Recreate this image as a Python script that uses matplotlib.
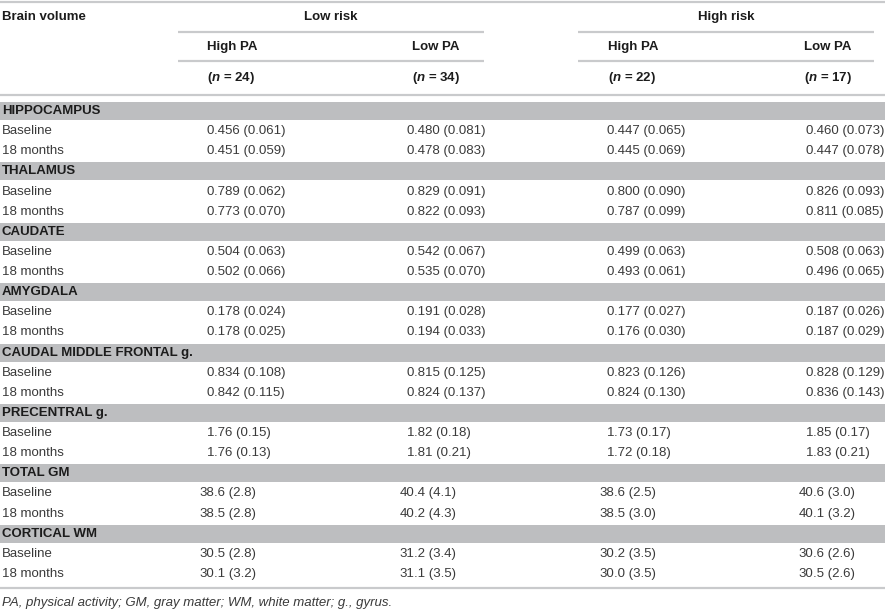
import matplotlib
matplotlib.use('Agg')
import matplotlib.pyplot as plt

plt.rcParams['font.family'] = ['Liberation Sans', 'DejaVu Sans']
plt.rcParams['mathtext.fontset'] = 'custom'
plt.rcParams['mathtext.bfit'] = 'Liberation Sans:italic:bold'
plt.rcParams['mathtext.it'] = 'Liberation Sans:italic'
plt.rcParams['mathtext.rm'] = 'Liberation Sans'

# table content
row_header = 'Brain volume'
groups = ['Low risk', 'High risk']
subgroups = ['High PA', 'Low PA', 'High PA', 'Low PA']
group_n = [24, 34, 22, 17]
regions = ['HIPPOCAMPUS', 'THALAMUS', 'CAUDATE', 'AMYGDALA',
           'CAUDAL MIDDLE FRONTAL g.', 'PRECENTRAL g.', 'TOTAL GM', 'CORTICAL WM']
time_points = ['Baseline', '18 months']

low_risk_high_pa = ['0.456 (0.061)', '0.451 (0.059)', '0.789 (0.062)', '0.773 (0.070)',
                    '0.504 (0.063)', '0.502 (0.066)', '0.178 (0.024)', '0.178 (0.025)',
                    '0.834 (0.108)', '0.842 (0.115)', '1.76 (0.15)', '1.76 (0.13)',
                    '38.6 (2.8)', '38.5 (2.8)', '30.5 (2.8)', '30.1 (3.2)']
low_risk_low_pa = ['0.480 (0.081)', '0.478 (0.083)', '0.829 (0.091)', '0.822 (0.093)',
                   '0.542 (0.067)', '0.535 (0.070)', '0.191 (0.028)', '0.194 (0.033)',
                   '0.815 (0.125)', '0.824 (0.137)', '1.82 (0.18)', '1.81 (0.21)',
                   '40.4 (4.1)', '40.2 (4.3)', '31.2 (3.4)', '31.1 (3.5)']
high_risk_high_pa = ['0.447 (0.065)', '0.445 (0.069)', '0.800 (0.090)', '0.787 (0.099)',
                     '0.499 (0.063)', '0.493 (0.061)', '0.177 (0.027)', '0.176 (0.030)',
                     '0.823 (0.126)', '0.824 (0.130)', '1.73 (0.17)', '1.72 (0.18)',
                     '38.6 (2.5)', '38.5 (3.0)', '30.2 (3.5)', '30.0 (3.5)']
high_risk_low_pa = ['0.460 (0.073)', '0.447 (0.078)', '0.826 (0.093)', '0.811 (0.085)',
                    '0.508 (0.063)', '0.496 (0.065)', '0.187 (0.026)', '0.187 (0.029)',
                    '0.828 (0.129)', '0.836 (0.143)', '1.85 (0.17)', '1.83 (0.21)',
                    '40.6 (3.0)', '40.1 (3.2)', '30.6 (2.6)', '30.5 (2.6)']
footnote = 'PA, physical activity; GM, gray matter; WM, white matter; g., gyrus.'

columns = [low_risk_high_pa, low_risk_low_pa, high_risk_high_pa, high_risk_low_pa]

# layout (pixels)
W, H = 887, 614
FS = 9.5
TXT = '#3a3a3a'
BOLD = '#1c1c1c'
RULE = '#c9cacc'
BAND = '#bdbec0'
dec_x = [214, 414, 614, 813]
head_x = [207, 412, 608, 804]
group_span = [(178, 484), (578, 874)]
first_row = 111
pitch = 20.13

fig = plt.figure(figsize=(W / 100, H / 100), dpi=100)
ax = fig.add_axes([0, 0, 1, 1])
ax.set_xlim(0, W)
ax.set_ylim(H, 0)
ax.axis('off')

# rules
ax.hlines([2, 95, 588], 0, 885, color=RULE, lw=1.6)
for x0, x1 in group_span:
    ax.hlines([32, 61], x0, x1, color=RULE, lw=1.6)

# header
ax.text(2, 17, row_header, fontsize=FS, fontweight='bold', color=BOLD, va='center')
for (x0, x1), g in zip(group_span, groups):
    ax.text((x0 + x1) / 2, 17, g, fontsize=FS, fontweight='bold', color=BOLD,
            va='center', ha='center')
for x, sg, n in zip(head_x, subgroups, group_n):
    ax.text(x, 47, sg, fontsize=FS, fontweight='bold', color=BOLD, va='center')
    ax.text(x, 78, '($\\mathbfit{n}$ = %d)' % n, fontsize=FS, fontweight='bold',
            color=BOLD, va='center')

# body
row = 0
for i, region in enumerate(regions):
    y = first_row + row * pitch
    ax.axhspan(y - 9, y + 9, xmin=0, xmax=885 / W, color=BAND, lw=0)
    ax.text(2, y, region, fontsize=FS, fontweight='bold', color=BOLD, va='center')
    row += 1
    for j, tp in enumerate(time_points):
        y = first_row + row * pitch
        ax.text(2, y, tp, fontsize=FS, color=TXT, va='center')
        k = i * 2 + j
        for xd, col in zip(dec_x, columns):
            left, right = col[k].split('.', 1)
            ax.text(xd, y, left, fontsize=FS, color=TXT, va='center', ha='right')
            ax.text(xd, y, '.' + right, fontsize=FS, color=TXT, va='center', ha='left')
        row += 1

ax.text(2, 603, footnote, fontsize=FS, style='italic', color=TXT, va='center')

fig.savefig('out.png', dpi=100)
